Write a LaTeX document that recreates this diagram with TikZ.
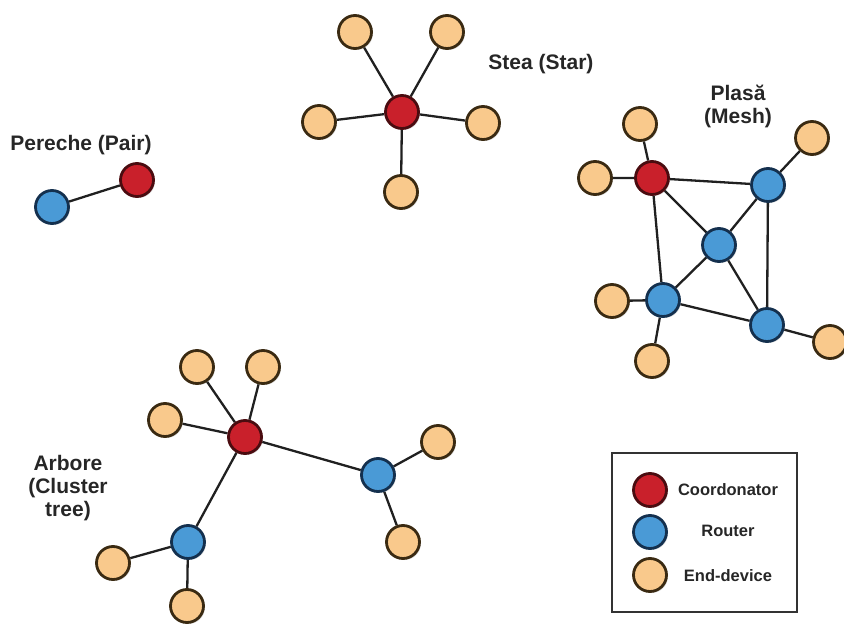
\documentclass[tikz,border=0pt]{standalone}
\usepackage{fontspec}
\setmainfont{Liberation Sans}
\usetikzlibrary{backgrounds,shadows}
\definecolor{coordfill}{HTML}{C9202B}
\definecolor{coordline}{HTML}{4A0C10}
\definecolor{routfill}{HTML}{4A9AD6}
\definecolor{routline}{HTML}{14304E}
\definecolor{endfill}{HTML}{F9C98C}
\definecolor{endline}{HTML}{3A2A12}
\definecolor{linkcol}{HTML}{202020}
\tikzset{
  dev/.style={circle, inner sep=0pt, minimum size=33pt, line width=2.8pt,
    drop shadow={opacity=0.25, shadow xshift=1.5pt, shadow yshift=-1.5pt}},
  coord/.style={dev, fill=coordfill, draw=coordline},
  rout/.style={dev, fill=routfill, draw=routline},
  enddev/.style={dev, fill=endfill, draw=endline},
  link/.style={draw=linkcol, line width=2.3pt},
  title/.style={font=\bfseries\fontsize{21}{23}\selectfont, text=black!85, align=center},
  legtext/.style={font=\bfseries\fontsize{16.5}{18}\selectfont, text=black!85}
}
\begin{document}
\begin{tikzpicture}[x=1pt,y=-1pt]
\useasboundingbox (0,0) rectangle (844,626);

% Pair
\node[title] (tpair) at (81,145) {Pereche (Pair)};
\node[rout] (p1) at (52,207) {};
\node[coord] (p2) at (137,180) {};

% Star
\node[title] (tstar) at (541,64) {Stea (Star)};
\node[coord] (s0) at (402,112) {};
\node[enddev] (s1) at (355,32) {};
\node[enddev] (s2) at (447,32) {};
\node[enddev] (s3) at (319,122) {};
\node[enddev] (s4) at (483,123) {};
\node[enddev] (s5) at (401,192) {};

% Mesh
\node[title] (tmesh) at (738,106) {Plasă\\(Mesh)};
\node[coord] (m0) at (652,178) {};
\node[rout] (m1) at (768,185) {};
\node[rout] (m2) at (719,245) {};
\node[rout] (m3) at (663,300) {};
\node[rout] (m4) at (767,325) {};
\node[enddev] (me1) at (640,124) {};
\node[enddev] (me2) at (595,178) {};
\node[enddev] (me3) at (812,138) {};
\node[enddev] (me4) at (612,301) {};
\node[enddev] (me5) at (652,361) {};
\node[enddev] (me6) at (830,342) {};

% Cluster tree
\node[title] (ttree) at (68,488) {Arbore\\(Cluster\\tree)};
\node[coord] (t0) at (245,437) {};
\node[enddev] (te1) at (197,367) {};
\node[enddev] (te2) at (263,367) {};
\node[enddev] (te3) at (165,420) {};
\node[rout] (t1) at (378,475) {};
\node[enddev] (te4) at (438,442) {};
\node[enddev] (te5) at (403,542) {};
\node[rout] (t2) at (188,542) {};
\node[enddev] (te6) at (113,563) {};
\node[enddev] (te7) at (187,606) {};

% Legend
\node[draw=black!80, line width=1.8pt, minimum width=185pt, minimum height=159pt, inner sep=0pt] (legbox) at (704.5,532.5) {};
\node[coord] (lc) at (650,490) {};
\node[rout] (lr) at (650,532) {};
\node[enddev] (le) at (650,575) {};
\node[legtext] (lct) at (728,490) {Coordonator};
\node[legtext] (lrt) at (728,531) {Router};
\node[legtext] (let) at (728,576) {End-device};

\begin{scope}[on background layer]
  \path[link] (p1) -- (p2);
  \foreach \e in {s1,s2,s3,s4,s5} \path[link] (s0) -- (\e);
  \path[link] (m0) -- (m1) (m0) -- (m2) (m0) -- (m3)
              (m1) -- (m2) (m1) -- (m4) (m2) -- (m3) (m2) -- (m4) (m3) -- (m4)
              (m0) -- (me1) (m0) -- (me2) (m1) -- (me3)
              (m3) -- (me4) (m3) -- (me5) (m4) -- (me6);
  \path[link] (t0) -- (te1) (t0) -- (te2) (t0) -- (te3)
              (t0) -- (t1) (t0) -- (t2)
              (t1) -- (te4) (t1) -- (te5)
              (t2) -- (te6) (t2) -- (te7);
\end{scope}
\end{tikzpicture}
\end{document}
